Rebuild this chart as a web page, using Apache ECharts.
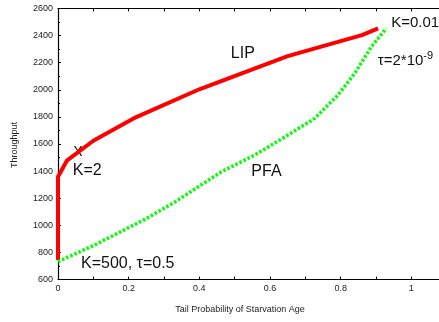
<!DOCTYPE html>
<html><head><meta charset="utf-8">
<script src="https://cdn.jsdelivr.net/npm/echarts@6/dist/echarts.min.js"></script>
<style>html,body{margin:0;padding:0;background:#fff}#c{width:439px;height:322px}</style>
</head><body><div id="c"></div>
<script>
var lipX = [0, 0, 0.025, 0.1, 0.22, 0.4, 0.65, 0.86, 0.906];
var lipY = [744, 1358, 1477, 1624, 1797, 2004, 2249, 2404, 2454];
var pfaX = [0, 0.02, 0.1, 0.246, 0.332, 0.463, 0.557, 0.651, 0.727, 0.7925, 0.84, 0.887, 0.929];
var pfaY = [731, 756, 850, 1044, 1174, 1396, 1519, 1666, 1790, 1962, 2122, 2318, 2454];
var yTicks = [600, 800, 1000, 1200, 1400, 1600, 1800, 2000, 2200, 2400, 2600];
var annText = ['LIP', 'PFA', 'K=0.01', 'τ=2*10{s|-9}', 'X', 'K=2', 'K=500, τ=0.5'];
var annX = [0.523, 0.59, 0.943, 0.905, 0.0566, 0.042, 0.065];
var annY = [2264, 1393, 2493, 2213, 1541, 1401, 714];
var annAlign = ['center', 'center', 'left', 'left', 'center', 'left', 'left'];
var annSize = [16, 16, 15, 15, 14, 16, 16];

var FONT = '"Liberation Sans", Arial, sans-serif';
function zip(a, b) { return a.map(function (v, i) { return [v, b[i]]; }); }
var chart = echarts.init(document.getElementById('c'));
var tickLabel = { color: '#222', fontSize: 9, fontFamily: FONT };
chart.setOption({
  animation: false,
  grid: { left: 58, right: -43, top: 8.5, bottom: 42.5, outerBoundsMode: 'none', containLabel: false },
  xAxis: [{
    type: 'value', min: 0, max: 1.2, interval: 0.1, position: 'bottom',
    axisLine: { lineStyle: { color: '#000', width: 1.2 } },
    axisTick: { inside: true, length: 3, lineStyle: { color: '#000' } },
    splitLine: { show: false },
    axisLabel: Object.assign({ margin: 5, formatter: function (v) {
      var t = Math.round(v * 10); return t % 2 === 0 ? String(t / 10) : ''; } }, tickLabel)
  }, {
    type: 'value', min: 0, max: 1.2, interval: 0.1, position: 'top',
    axisLine: { lineStyle: { color: '#000', width: 1.2 } },
    axisTick: { inside: true, length: 3, lineStyle: { color: '#000' } },
    splitLine: { show: false }, axisLabel: { show: false }
  }],
  yAxis: {
    type: 'value', min: yTicks[0], max: yTicks[yTicks.length - 1], interval: 200,
    axisLine: { show: true, lineStyle: { color: '#000', width: 1.2 } },
    axisTick: { show: true, inside: true, length: 3, lineStyle: { color: '#000' } },
    minorTick: { show: true, splitNumber: 2, length: 2, lineStyle: { color: '#000' } },
    splitLine: { show: false },
    axisLabel: Object.assign({ margin: 5, formatter: function (v) { return String(v); } }, tickLabel)
  },
  series: [{
    name: 'LIP', type: 'line', data: zip(lipX, lipY), symbol: 'none',
    lineStyle: { color: '#ff0000', width: 4 }, z: 3
  }, {
    name: 'PFA', type: 'line', data: zip(pfaX, pfaY), symbol: 'none',
    lineStyle: { color: '#00ff00', width: 3.5, type: [2.5, 2] }, z: 4
  }]
});
var g = [];
annText.forEach(function (t, i) {
  var p = chart.convertToPixel({ gridIndex: 0 }, [annX[i], annY[i]]);
  g.push({ type: 'text', x: p[0], y: p[1], style: {
    text: t, fill: '#111', font: annSize[i] + 'px ' + FONT, align: annAlign[i], verticalAlign: 'middle',
    rich: { s: { fontSize: 11, fontFamily: FONT, verticalAlign: 'top', padding: [0, 0, 10, 0], fill: '#111' } }
  } });
});
g.push({ type: 'text', x: 240, y: 310, style: { text: 'Tail Probability of Starvation Age', fill: '#222',
  font: '9px ' + FONT, align: 'center', verticalAlign: 'middle' } });
g.push({ type: 'text', x: 15, y: 145, rotation: Math.PI / 2, style: { text: 'Throughput', fill: '#222',
  font: '9px ' + FONT, align: 'center', verticalAlign: 'middle' } });
chart.setOption({ graphic: g });
</script></body></html>
